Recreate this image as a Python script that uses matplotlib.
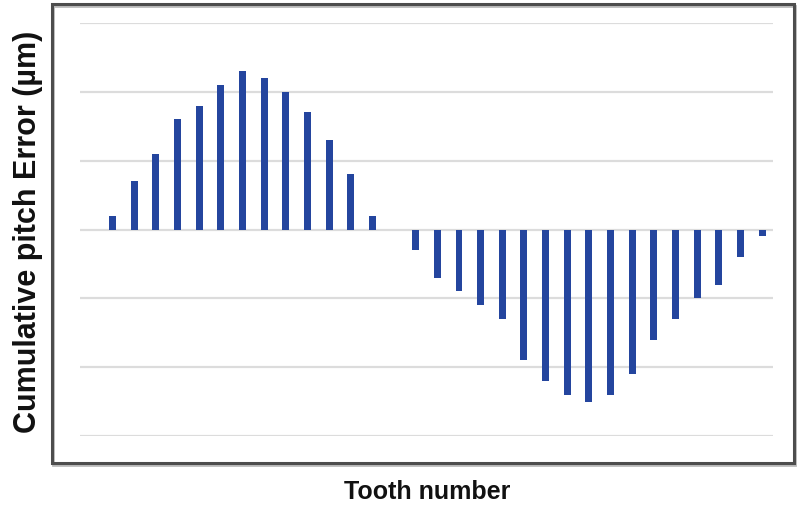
import matplotlib
matplotlib.use('Agg')
import matplotlib.pyplot as plt
from matplotlib.patches import Rectangle

plt.rcParams['font.family'] = ['Liberation Sans', 'DejaVu Sans']

# tooth numbers (first slot is empty in the original chart)
teeth = list(range(0, 32))
pitch_error = [0, 2, 7, 11, 16, 18, 21, 23, 22, 20, 17, 13, 8, 2, 0,
               -3, -7, -9, -11, -13, -19, -22, -24, -25, -24, -21, -16,
               -13, -10, -8, -4, -1]
grid_levels = [-30, -20, -10, 0, 10, 20, 30]

bar_color = '#24459e'
grid_color = '#dcdcdc'

fig = plt.figure(figsize=(8, 5.15), dpi=100)
ax = fig.add_axes([80 / 800, 1 - 436 / 515, 693 / 800, 413 / 515])

for g in grid_levels:
    ax.axhline(g, color=grid_color, lw=1.6, zorder=0)

ax.bar(teeth, pitch_error, width=0.32, color=bar_color, zorder=2)

ax.set_xlim(-0.5, 31.5)
ax.set_ylim(-30, 30)
ax.set_xticks([])
ax.set_yticks([])
for s in ax.spines.values():
    s.set_visible(False)

# chart area border with a faint shadow
fig.patches.append(Rectangle((53 / 800, 1 - 465 / 515), 742 / 800, 459 / 515,
                             transform=fig.transFigure, fill=False,
                             edgecolor='#bbbbbb', lw=2, zorder=4))
fig.patches.append(Rectangle((52 / 800, 1 - 463 / 515), 742 / 800, 459 / 515,
                             transform=fig.transFigure, fill=False,
                             edgecolor='#4d4d4d', lw=2.2, zorder=5))

fig.text(427 / 800, 1 - 492 / 515, 'Tooth number', ha='center', va='center',
         fontsize=18, fontweight='bold', color='#111111')
fig.text(28 / 800, 1 - 232 / 515, 'Cumulative pitch Error (µm)', ha='center',
         va='center', rotation=90, fontsize=22, fontweight='bold', color='#111111')

fig.savefig('out.png', dpi=100, facecolor='white')
